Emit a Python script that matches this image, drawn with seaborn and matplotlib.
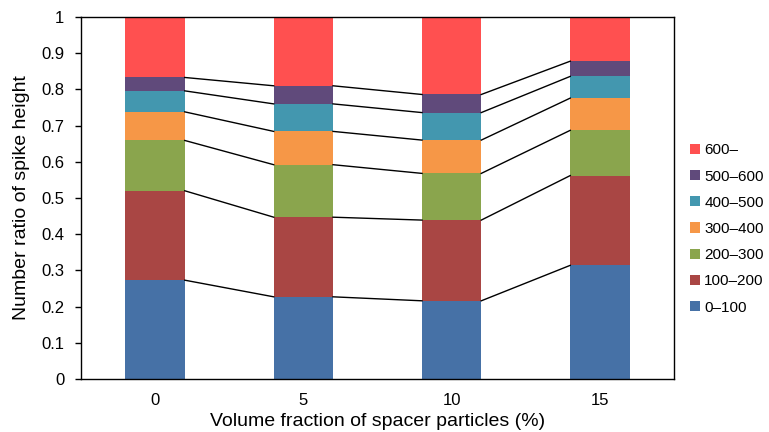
"""
Stacked ratio of spike heights vs. spacer particle volume fraction
Output: out.png
"""

import pandas as pd
import numpy as np
import matplotlib.pyplot as plt
import seaborn as sns
from matplotlib.patches import Patch
from matplotlib.ticker import FuncFormatter

# volume fraction categories (%)
fractions = ["0", "5", "10", "15"]

# spike height classes, bottom to top
height_classes = ["0–100", "100–200", "200–300", "300–400", "400–500", "500–600", "600–"]

# ratio of each class per volume fraction
ratio_0_100 = [0.273, 0.227, 0.216, 0.314]
ratio_100_200 = [0.247, 0.220, 0.223, 0.248]
ratio_200_300 = [0.139, 0.145, 0.129, 0.125]
ratio_300_400 = [0.079, 0.092, 0.092, 0.089]
ratio_400_500 = [0.058, 0.076, 0.076, 0.060]
ratio_500_600 = [0.037, 0.050, 0.050, 0.042]
ratio_600_up = [0.167, 0.190, 0.214, 0.122]

colors = ["#4671A6", "#A94644", "#8AA54D", "#F69747", "#4397AF", "#604A7B", "#FF5050"]

plt.rcParams["font.family"] = ["Liberation Sans", "DejaVu Sans"]


def main():
    layers = [ratio_0_100, ratio_100_200, ratio_200_300, ratio_300_400,
              ratio_400_500, ratio_500_600, ratio_600_up]
    cum = np.cumsum(np.array(layers), axis=0)

    fig = plt.figure(figsize=(7.69, 4.32), dpi=100)
    ax = fig.add_axes([0.1053, 0.1227, 0.7712, 0.8379])

    bar_w = 0.4
    # draw from the top layer down so each lower layer covers the one above
    for i in range(len(layers) - 1, -1, -1):
        df = pd.DataFrame({"fraction": fractions, "cum": cum[i]})
        sns.barplot(data=df, x="fraction", y="cum", color=colors[i],
                    width=bar_w, saturation=1, ax=ax, linewidth=0)

    # series lines between the bars
    for i in range(len(layers) - 1):
        for j in range(len(fractions) - 1):
            ax.plot([j + bar_w / 2, j + 1 - bar_w / 2], [cum[i][j], cum[i][j + 1]],
                    color="black", lw=1, zorder=3)

    ax.set_xlim(-0.5, len(fractions) - 0.5)
    ax.set_ylim(0, 1)
    ax.set_yticks(np.arange(0, 1.01, 0.1))
    ax.yaxis.set_major_formatter(FuncFormatter(lambda v, p: f"{v:g}"))
    ax.tick_params(axis="y", direction="out", length=4, width=1, labelsize=12, pad=8)
    ax.tick_params(axis="x", length=0, labelsize=12, pad=10)
    for s in ax.spines.values():
        s.set_color("black")
        s.set_linewidth(1)

    ax.set_xlabel("Volume fraction of spacer particles (%)", fontsize=14, labelpad=4)
    ax.set_ylabel("Number ratio of spike height", fontsize=14, labelpad=8)

    handles = [Patch(facecolor=colors[i], label=height_classes[i])
               for i in range(len(layers) - 1, -1, -1)]
    fig.legend(handles=handles, loc="center left", bbox_to_anchor=(0.897, 0.47),
               frameon=False, fontsize=11, handlelength=0.65, handleheight=0.65,
               handletextpad=0.3, labelspacing=0.8, borderaxespad=0, borderpad=0)

    fig.savefig("out.png", dpi=100)
    plt.close(fig)


if __name__ == "__main__":
    main()
